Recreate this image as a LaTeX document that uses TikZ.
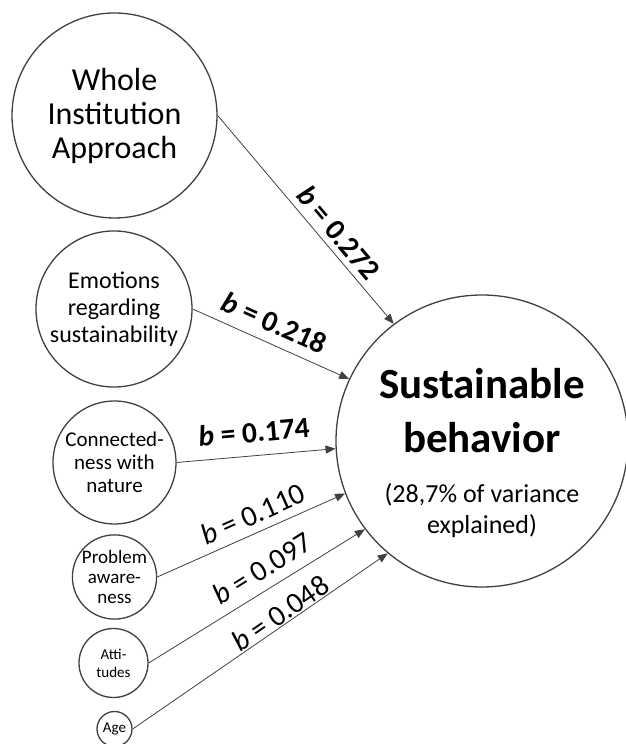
\documentclass[tikz,border=0pt]{standalone}
\usepackage{fontspec}
\setmainfont{Carlito}
\usepackage{tikz}
\usetikzlibrary{arrows.meta, positioning}
\definecolor{mydark}{RGB}{64,64,64}
\newcommand{\fsz}[2]{\fontsize{#1}{#2}\selectfont}
\tikzset{
  factor/.style={circle, draw=mydark, line width=1.3pt, inner sep=0pt,
    align=center, text=black},
  path/.style={-{Triangle[length=10pt, width=8pt]}, draw=mydark, line width=0.8pt},
  coef/.style={sloped, inner sep=0pt, font=\fsz{29.5}{31}},
  strongcoef/.style={coef, font=\fsz{29.5}{31}\bfseries}
}

\begin{document}
\begin{tikzpicture}[x=1pt, y=1pt]
  \useasboundingbox (0,0) rectangle (626,744);

  % Predictors
  \node[factor, minimum size=205pt, font=\fsz{32}{34}] (whole) at (114.5,628.5)
    {Whole\\ Institution\\ Approach};
  \node[factor, minimum size=156pt, font=\fsz{24}{27}] (emo) at (114,435)
    {Emotions\\ regarding\\ sustainability};
  \node[factor, minimum size=123pt, font=\fsz{21}{23}] (nature) at (114.5,281.5)
    {Connected-\\ ness with\\ nature};
  \node[factor, minimum size=80pt, font=\fsz{19}{20}] (aware) at (114.5,167)
    {Problem\\ aware-\\ ness};
  \node[factor, minimum size=69pt, font=\fsz{15}{18}] (att) at (113.5,81)
    {Atti-\\ tudes};
  \node[factor, minimum size=35pt, font=\fsz{15}{18}] (age) at (114.5,15) {Age};

  % Outcome
  \node[factor, minimum size=292pt] (sust) at (482,303) {};
  \node[align=center, inner sep=0pt, font=\fsz{43}{54}\bfseries] (sustlabel) at (482,291)
    {Sustainable\\
     behavior\\[-4pt]
     \fsz{26}{31}\mdseries (28,7\% of variance\\[-23pt]
     \fsz{26}{31}\mdseries explained)};

  % Paths
  \draw[path] (whole.east) -- (sust.127)
    node[strongcoef, pos=0.615, above=6pt] {\textit{b} = 0.272};
  \draw[path] (emo.east) -- (sust.155)
    node[strongcoef, pos=0.47, above=10pt] {\textit{b} = 0.218};
  \draw[path] (nature.east) -- (sust.183)
    node[strongcoef, pos=0.5, above=13pt] {\textit{b} = 0.174};
  \draw[path] (aware.east) -- (sust.201.5)
    node[coef, pos=0.55, above=8pt] {\textit{b} = 0.110};
  \draw[path] (att.east) -- (sust.217.5)
    node[coef, pos=0.576, above=10pt] {\textit{b} = 0.097};
  \draw[path] (age.east) -- (sust.230)
    node[coef, pos=0.605, above=1pt] {\textit{b} = 0.048};
\end{tikzpicture}
\end{document}
